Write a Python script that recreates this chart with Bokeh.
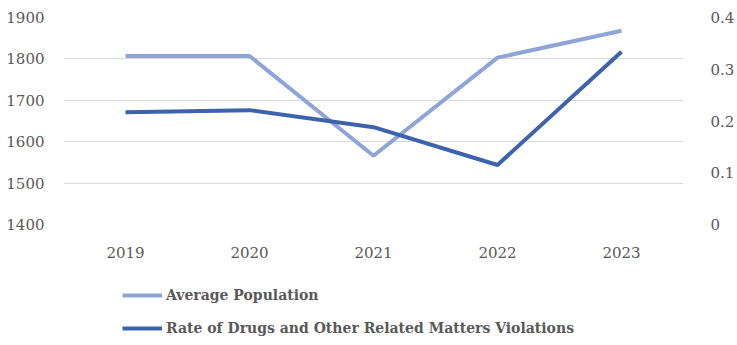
from bokeh.plotting import figure
from bokeh.layouts import column
from bokeh.models import Range1d, LinearAxis, Legend, LegendItem, FixedTicker, CustomJSTickFormatter
from bokeh.embed import file_html
from bokeh.resources import INLINE

years = ["2019", "2020", "2021", "2022", "2023"]
avg_population = [1807, 1807, 1566, 1803, 1868]
violation_rate = [0.217, 0.221, 0.188, 0.115, 0.334]
left_ticks = [1400, 1500, 1600, 1700, 1800, 1900]
right_ticks = [0, 0.1, 0.2, 0.3, 0.4]
series_names = ["Average Population", "Rate of Drugs and Other Related Matters Violations"]

FONT = "DejaVu Serif"
TXT = "#595959"
LIGHT = "#8FA5D8"
DARK = "#3E63AD"

p = figure(x_range=years, y_range=Range1d(1400, 1900), width=737, height=260,
           output_backend="svg", toolbar_location=None,
           min_border_left=63, min_border_right=45, min_border_top=17, min_border_bottom=36)
p.outline_line_color = None
p.background_fill_color = "white"
p.border_fill_color = "white"
p.x_range.range_padding = 0

p.extra_y_ranges = {"rate": Range1d(0, 0.4)}

p.line(years, avg_population, line_color=LIGHT, line_width=4)
p.line(years, violation_rate, line_color=DARK, line_width=4, y_range_name="rate")

p.yaxis.ticker = FixedTicker(ticks=left_ticks)
raxis = LinearAxis(y_range_name="rate", ticker=FixedTicker(ticks=right_ticks),
                   formatter=CustomJSTickFormatter(code="return tick == 0 ? '0' : tick.toFixed(1);"))
p.add_layout(raxis, "right")

for ax in [p.xaxis[0], p.yaxis[0], raxis]:
    ax.axis_line_color = None
    ax.major_tick_line_color = None
    ax.minor_tick_line_color = None
    ax.major_label_text_font = FONT
    ax.major_label_text_font_size = "15px"
    ax.major_label_text_color = TXT
p.yaxis[0].major_label_standoff = 13
raxis.major_label_standoff = 21
p.xaxis[0].major_label_standoff = 16

p.xgrid.grid_line_color = None
p.ygrid.grid_line_color = "#d9d9d9"
p.ygrid.grid_line_width = 1

# legend panel below the chart (its frame is aligned with the chart's frame)
nan = float("nan")
lg = figure(width=737, height=85, output_backend="svg", toolbar_location=None,
            x_range=Range1d(0, 1), y_range=Range1d(0, 1),
            x_axis_location=None, y_axis_location=None,
            min_border_left=63, min_border_right=45, min_border_top=0, min_border_bottom=0)
lg.outline_line_color = None
lg.xgrid.grid_line_color = None
lg.ygrid.grid_line_color = None
k1 = lg.line([nan], [nan], line_color=LIGHT, line_width=4)
k2 = lg.line([nan], [nan], line_color=DARK, line_width=4)

legend = Legend(items=[LegendItem(label=series_names[0], renderers=[k1]),
                       LegendItem(label=series_names[1], renderers=[k2])],
                location=(59, 7), orientation="vertical")
legend.border_line_color = None
legend.background_fill_alpha = 0
legend.padding = 0
legend.margin = 0
legend.glyph_width = 40
legend.glyph_height = 20
legend.label_height = 20
legend.spacing = 13
legend.label_standoff = 4
legend.label_text_font = FONT
legend.label_text_font_size = "14px"
legend.label_text_font_style = "bold"
legend.label_text_color = TXT
lg.add_layout(legend, "center")

open("out.html", "w").write(file_html(column(p, lg, spacing=0), INLINE))
